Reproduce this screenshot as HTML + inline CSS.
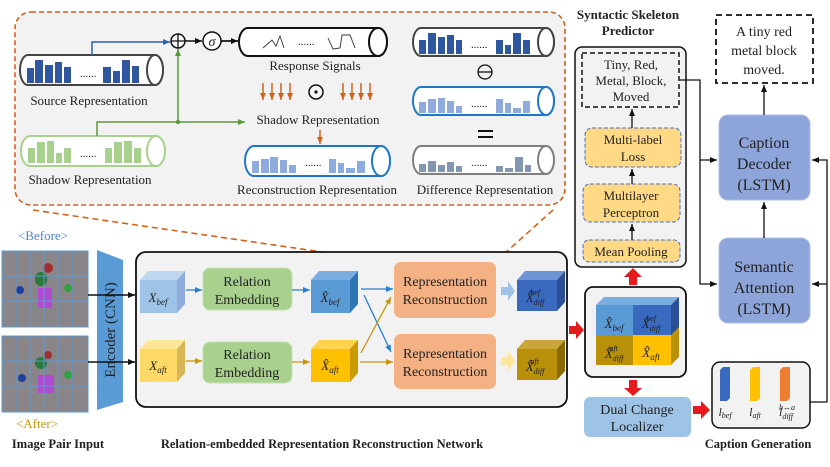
<!DOCTYPE html>
<html><head><meta charset="utf-8"><style>
html,body{margin:0;padding:0;background:#fff}
svg{display:block}
text{font-family:"Liberation Serif",serif;fill:#222}
.b{font-weight:bold}
</style></head><body>
<svg width="830" height="467" viewBox="0 0 830 467" xmlns="http://www.w3.org/2000/svg">
<defs>
<marker id="ak" markerWidth="8" markerHeight="8" refX="7" refY="4" orient="auto" markerUnits="userSpaceOnUse"><path d="M0,1 L7,4 L0,7 Z" fill="#111"/></marker>
<marker id="ab" markerWidth="8" markerHeight="8" refX="7" refY="4" orient="auto" markerUnits="userSpaceOnUse"><path d="M0,1 L7,4 L0,7 Z" fill="#2a7fcf"/></marker>
<marker id="ay" markerWidth="8" markerHeight="8" refX="7" refY="4" orient="auto" markerUnits="userSpaceOnUse"><path d="M0,1 L7,4 L0,7 Z" fill="#c9960c"/></marker>
<marker id="ag" markerWidth="8" markerHeight="8" refX="7" refY="4" orient="auto" markerUnits="userSpaceOnUse"><path d="M0,1 L7,4 L0,7 Z" fill="#5a9a3a"/></marker>
<marker id="ao" markerWidth="8" markerHeight="8" refX="7" refY="4" orient="auto" markerUnits="userSpaceOnUse"><path d="M0,1 L7,4 L0,7 Z" fill="#d0621c"/></marker>
<marker id="abl" markerWidth="8" markerHeight="8" refX="7" refY="4" orient="auto" markerUnits="userSpaceOnUse"><path d="M0,1 L7,4 L0,7 Z" fill="#3060b0"/></marker>
</defs>

<!-- Top dashed orange box -->
<rect x="15" y="12" width="550" height="193" rx="16" fill="#f2f2f2" stroke="#d0621c" stroke-width="1.6" stroke-dasharray="5,3"/>
<line x1="33" y1="210" x2="398" y2="263" stroke="#d0621c" stroke-width="1.6" stroke-dasharray="6,4"/>
<line x1="553" y1="210" x2="494" y2="263" stroke="#d0621c" stroke-width="1.6" stroke-dasharray="6,4"/>

<!-- Source cylinder -->
<path d="M28,55 H155 A8,15 0 0 1 155,85 H28 A8,15 0 0 1 28,55 Z" fill="#fff" stroke="#444" stroke-width="2"/>
<ellipse cx="155" cy="70" rx="8" ry="15" fill="#fff" stroke="#444" stroke-width="2"/>
<g fill="#2f57a0">
<rect x="27" y="68" width="7" height="15"/><rect x="35" y="60" width="8" height="23"/><rect x="45" y="65" width="8" height="18"/><rect x="55" y="62" width="7" height="21"/><rect x="64" y="67" width="7" height="16"/>
<rect x="103" y="67" width="8" height="16"/><rect x="113" y="71" width="7" height="12"/><rect x="122" y="60" width="8" height="23"/><rect x="132" y="66" width="7" height="17"/>
</g>
<text x="80" y="77" font-size="11">......</text>
<text x="89" y="105" font-size="13" text-anchor="middle">Source Representation</text>

<!-- Shadow cylinder -->
<path d="M30,136 H156 A9,15 0 0 1 156,166 H30 A9,15 0 0 1 30,136 Z" fill="#fff" stroke="#a9d18e" stroke-width="2"/>
<ellipse cx="156" cy="151" rx="9" ry="15" fill="#fff" stroke="#a9d18e" stroke-width="2"/>
<g fill="#a9d18e">
<rect x="28" y="148" width="7" height="15"/><rect x="37" y="142" width="8" height="21"/><rect x="47" y="141" width="7" height="22"/><rect x="56" y="153" width="6" height="10"/><rect x="64" y="148" width="7" height="15"/>
<rect x="105" y="148" width="7" height="15"/><rect x="114" y="142" width="8" height="21"/><rect x="124" y="141" width="8" height="22"/><rect x="134" y="148" width="7" height="15"/>
</g>
<text x="80" y="157" font-size="11">......</text>
<text x="90" y="184" font-size="13" text-anchor="middle">Shadow Representation</text>

<!-- connectors top -->
<path d="M92,55 V42 H170" fill="none" stroke="#3060b0" stroke-width="1.5" marker-end="url(#abl)"/>
<path d="M97,136 V122 H245" fill="none" stroke="#5a9a3a" stroke-width="1.5" marker-end="url(#ag)"/>
<path d="M178,122 V49" fill="none" stroke="#5a9a3a" stroke-width="1.5" marker-end="url(#ag)"/>
<circle cx="178" cy="122" r="2.2" fill="#5a9a3a"/>
<circle cx="178" cy="41" r="7" fill="#fff" stroke="#111" stroke-width="1.5"/>
<path d="M171,41 H185 M178,34 V48" stroke="#111" stroke-width="1.3"/>
<line x1="185" y1="41" x2="202" y2="41" stroke="#111" stroke-width="1.5" marker-end="url(#ak)"/>
<circle cx="212" cy="41" r="9" fill="#fff" stroke="#111" stroke-width="1.5"/>
<text x="212" y="46" font-size="14" font-style="italic" text-anchor="middle">σ</text>
<line x1="221" y1="41" x2="238" y2="41" stroke="#111" stroke-width="1.8" marker-end="url(#ak)"/>

<!-- Response signals cylinder -->
<path d="M248,28 H378 A9,14 0 0 1 378,56 H248 A9,14 0 0 1 248,28 Z" fill="#fff" stroke="#111" stroke-width="2"/>
<ellipse cx="378" cy="42" rx="9" ry="14" fill="#fff" stroke="#111" stroke-width="2"/>
<path d="M263,48 L272,40 L276,46 L280,36 L284,48 M328,38 L333,49 L340,48 L342,35 L350,35 L355,48" fill="none" stroke="#333" stroke-width="0.9"/>
<text x="298" y="45" font-size="11">......</text>
<text x="315" y="70" font-size="13" text-anchor="middle">Response Signals</text>

<!-- orange arrows -->
<g stroke="#d0621c" stroke-width="1.5" fill="none">
<line x1="263" y1="83" x2="263" y2="100" marker-end="url(#ao)"/><line x1="272" y1="83" x2="272" y2="100" marker-end="url(#ao)"/><line x1="281" y1="83" x2="281" y2="100" marker-end="url(#ao)"/><line x1="290" y1="83" x2="290" y2="100" marker-end="url(#ao)"/>
<line x1="343" y1="83" x2="343" y2="100" marker-end="url(#ao)"/><line x1="352" y1="83" x2="352" y2="100" marker-end="url(#ao)"/><line x1="361" y1="83" x2="361" y2="100" marker-end="url(#ao)"/><line x1="370" y1="83" x2="370" y2="100" marker-end="url(#ao)"/>
<line x1="320" y1="130" x2="320" y2="144" marker-end="url(#ao)"/>
</g>
<circle cx="316" cy="92" r="7" fill="none" stroke="#111" stroke-width="1.5"/><circle cx="316" cy="92" r="1.6" fill="#111"/>
<text x="318" y="124" font-size="13" text-anchor="middle">Shadow Representation</text>

<!-- Reconstruction cylinder -->
<path d="M254,146 H381 A9,15 0 0 1 381,176 H254 A9,15 0 0 1 254,146 Z" fill="#fff" stroke="#1f77c8" stroke-width="2"/>
<ellipse cx="381" cy="161" rx="9" ry="15" fill="#fff" stroke="#1f77c8" stroke-width="2"/>
<g fill="#8faadc">
<rect x="252" y="161" width="7" height="12"/><rect x="261" y="159" width="8" height="14"/><rect x="270" y="157" width="8" height="16"/><rect x="280" y="160" width="7" height="13"/><rect x="289" y="165" width="7" height="8"/>
<rect x="329" y="159" width="7" height="14"/><rect x="338" y="163" width="6" height="10"/><rect x="346" y="168" width="9" height="5"/><rect x="357" y="161" width="8" height="12"/>
</g>
<text x="305" y="166" font-size="11">......</text>
<text x="317" y="194" font-size="13" text-anchor="middle">Reconstruction Representation</text>

<!-- Difference column -->
<path d="M421,28 H546 A8,14 0 0 1 546,56 H421 A8,14 0 0 1 421,28 Z" fill="#fff" stroke="#444" stroke-width="2"/>
<ellipse cx="546" cy="42" rx="8" ry="14" fill="#fff" stroke="#444" stroke-width="2"/>
<g fill="#2f57a0"><rect x="419" y="40" width="7" height="14"/><rect x="428" y="33" width="8" height="21"/><rect x="438" y="37" width="7" height="17"/><rect x="447" y="35" width="7" height="19"/><rect x="456" y="40" width="6" height="14"/><rect x="496" y="40" width="7" height="14"/><rect x="505" y="45" width="6" height="9"/><rect x="513" y="33" width="8" height="21"/><rect x="523" y="40" width="7" height="14"/></g>
<text x="471" y="48" font-size="11">......</text>
<circle cx="485" cy="72" r="7" fill="none" stroke="#111" stroke-width="1.3"/><line x1="478" y1="72" x2="492" y2="72" stroke="#111" stroke-width="1.3"/>
<path d="M421,87 H546 A8,14 0 0 1 546,115 H421 A8,14 0 0 1 421,87 Z" fill="#fff" stroke="#1f77c8" stroke-width="2"/>
<ellipse cx="546" cy="101" rx="8" ry="14" fill="#fff" stroke="#1f77c8" stroke-width="2"/>
<g fill="#8faadc"><rect x="419" y="102" width="7" height="11"/><rect x="428" y="99" width="8" height="14"/><rect x="438" y="98" width="7" height="15"/><rect x="447" y="101" width="7" height="12"/><rect x="456" y="106" width="6" height="7"/><rect x="496" y="99" width="7" height="14"/><rect x="505" y="103" width="6" height="10"/><rect x="513" y="108" width="8" height="5"/><rect x="523" y="101" width="7" height="12"/></g>
<text x="471" y="107" font-size="11">......</text>
<path d="M478,131 H493 M478,137 H493" stroke="#111" stroke-width="2"/>
<path d="M421,146 H546 A8,14 0 0 1 546,174 H421 A8,14 0 0 1 421,146 Z" fill="#fff" stroke="#7f7f7f" stroke-width="2"/>
<ellipse cx="546" cy="160" rx="8" ry="14" fill="#fff" stroke="#7f7f7f" stroke-width="2"/>
<g fill="#8497b0"><rect x="419" y="164" width="7" height="8"/><rect x="428" y="161" width="8" height="11"/><rect x="438" y="165" width="7" height="7"/><rect x="447" y="162" width="7" height="10"/><rect x="456" y="166" width="6" height="6"/><rect x="496" y="166" width="7" height="6"/><rect x="505" y="168" width="8" height="4"/><rect x="515" y="157" width="8" height="15"/><rect x="525" y="165" width="6" height="7"/></g>
<text x="471" y="166" font-size="11">......</text>
<text x="485" y="194" font-size="13" text-anchor="middle">Difference Representation</text>

<!-- Image pair -->
<text x="43" y="240" font-size="13" fill="#4a86c8" text-anchor="middle" style="fill:#4a86c8">&lt;Before&gt;</text>
<g>
<rect x="2" y="251" width="86" height="76" fill="#8a8588"/>
<rect x="35" y="272" width="12" height="14" fill="#2a7a3a" rx="6"/><circle cx="48" cy="268" r="5" fill="#a03030"/><rect x="38" y="288" width="14" height="20" fill="#b04ad0"/><circle cx="20" cy="290" r="4" fill="#2040a0"/><circle cx="68" cy="288" r="4" fill="#30a040"/>
<rect x="2" y="336" width="86" height="76" fill="#8a8588"/>
<rect x="35" y="357" width="12" height="12" fill="#2a7a3a" rx="6"/><circle cx="48" cy="355" r="4" fill="#a03030"/><rect x="38" y="375" width="16" height="18" fill="#b04ad0"/><circle cx="22" cy="378" r="4" fill="#2040a0"/><circle cx="68" cy="375" r="4" fill="#30a040"/>
<g stroke="#5b9bd5" stroke-width="1" fill="none">
<rect x="2" y="251" width="86" height="76"/><path d="M16,251V327M30,251V327M44,251V327M58,251V327M72,251V327M2,276H88M2,301H88"/>
<rect x="2" y="336" width="86" height="76"/><path d="M16,336V412M30,336V412M44,336V412M58,336V412M72,336V412M2,361H88M2,386H88"/>
</g></g>
<text x="37" y="428" font-size="13" text-anchor="middle" style="fill:#c9960c">&lt;After&gt;</text>

<!-- Encoder -->
<path d="M97,250 L123,260 L123,402 L97,410 Z" fill="#5b9bd5"/>
<text transform="translate(115,330) rotate(-90)" font-size="15" text-anchor="middle">Encoder (CNN)</text>
<line x1="88" y1="295" x2="135" y2="295" stroke="#111" stroke-width="1.5" marker-end="url(#ak)"/>
<line x1="88" y1="362" x2="135" y2="362" stroke="#111" stroke-width="1.5" marker-end="url(#ak)"/>

<!-- Main network box -->
<rect x="136" y="252" width="431" height="155" rx="10" fill="#f2f2f2" stroke="#111" stroke-width="1.8"/>

<!-- cubes -->
<g>
<path d="M140,280 L148,271 L185,271 L177,280Z" fill="#bdd7ee"/><path d="M177,280 L185,271 L185,304 L177,313Z" fill="#8faadc"/><rect x="140" y="280" width="37" height="33" fill="#9dc3e6"/>
<text x="158" y="302" font-size="13" font-style="italic" text-anchor="middle">X<tspan font-size="9" dy="3">bef</tspan></text>
<path d="M140,349 L148,340 L185,340 L177,349Z" fill="#ffe699"/><path d="M177,349 L185,340 L185,373 L177,382Z" fill="#d6b656"/><rect x="140" y="349" width="37" height="33" fill="#ffd966"/>
<text x="158" y="370" font-size="13" font-style="italic" text-anchor="middle">X<tspan font-size="9" dy="3">aft</tspan></text>

<path d="M311,280 L319,271 L358,271 L350,280Z" fill="#7aaee0"/><path d="M350,280 L358,271 L358,304 L350,313Z" fill="#2e75b6"/><rect x="311" y="280" width="39" height="33" fill="#5b9bd5"/>
<text x="330" y="302" font-size="13" font-style="italic" text-anchor="middle">X̂<tspan font-size="9" dy="3">bef</tspan></text>
<path d="M311,349 L319,340 L358,340 L350,349Z" fill="#ffd34d"/><path d="M350,349 L358,340 L358,373 L350,382Z" fill="#c89b00"/><rect x="311" y="349" width="39" height="33" fill="#ffc000"/>
<text x="330" y="370" font-size="13" font-style="italic" text-anchor="middle">X̂<tspan font-size="9" dy="3">aft</tspan></text>

<path d="M517,280 L525,271 L565,271 L557,280Z" fill="#6f94d4"/><path d="M557,280 L565,271 L565,302 L557,311Z" fill="#2a4f96"/><rect x="517" y="280" width="40" height="31" fill="#3a6ac0"/>
<text x="535" y="302" font-size="13" font-style="italic" text-anchor="middle">X̂<tspan font-size="8" dy="3">diff</tspan><tspan font-size="8" dx="-14" dy="-10">bef</tspan></text>
<path d="M517,349 L525,340 L565,340 L557,349Z" fill="#c9a63a"/><path d="M557,349 L565,340 L565,371 L557,380Z" fill="#8a6a00"/><rect x="517" y="349" width="40" height="31" fill="#b8900a"/>
<text x="535" y="371" font-size="13" font-style="italic" text-anchor="middle">X̂<tspan font-size="8" dy="3">diff</tspan><tspan font-size="8" dx="-14" dy="-10">aft</tspan></text>
</g>

<!-- Relation embedding -->
<rect x="203" y="268" width="89" height="42" rx="7" fill="#a9d18e" stroke="#c5e0b4"/>
<text x="247" y="286" font-size="14" text-anchor="middle">Relation</text><text x="247" y="304" font-size="14" text-anchor="middle">Embedding</text>
<rect x="203" y="342" width="89" height="41" rx="7" fill="#a9d18e" stroke="#c5e0b4"/>
<text x="247" y="359" font-size="14" text-anchor="middle">Relation</text><text x="247" y="377" font-size="14" text-anchor="middle">Embedding</text>

<!-- Rep recon -->
<rect x="394" y="262" width="102" height="56" rx="7" fill="#f4b183"/>
<text x="445" y="286" font-size="14" text-anchor="middle">Representation</text><text x="445" y="304" font-size="14" text-anchor="middle">Reconstruction</text>
<rect x="394" y="334" width="102" height="55" rx="7" fill="#f4b183"/>
<text x="445" y="358" font-size="14" text-anchor="middle">Representation</text><text x="445" y="376" font-size="14" text-anchor="middle">Reconstruction</text>

<!-- arrows in network -->
<g stroke-width="1.3" fill="none">
<line x1="186" y1="290" x2="202" y2="290" stroke="#2a7fcf" marker-end="url(#ab)"/>
<line x1="292" y1="290" x2="310" y2="290" stroke="#2a7fcf" marker-end="url(#ab)"/>
<line x1="361" y1="289" x2="393" y2="289" stroke="#2a7fcf" marker-end="url(#ab)"/>
<line x1="364" y1="295" x2="391" y2="352" stroke="#2a7fcf" marker-end="url(#ab)"/>
<line x1="186" y1="361" x2="202" y2="361" stroke="#c9960c" marker-end="url(#ay)"/>
<line x1="292" y1="362" x2="310" y2="362" stroke="#c9960c" marker-end="url(#ay)"/>
<line x1="360" y1="362" x2="393" y2="362" stroke="#c9960c" marker-end="url(#ay)"/>
<line x1="361" y1="353" x2="391" y2="297" stroke="#c9960c" marker-end="url(#ay)"/>
</g>
<path d="M501,287 H508 V281 L515,291 L508,301 V295 H501Z" fill="#9dc3e6"/>
<path d="M501,357 H508 V351 L515,361 L508,371 V365 H501Z" fill="#ffe699"/>

<!-- red arrows -->
<path d="M569,326 H576 V321 L584,330 L576,339 V334 H569Z" fill="#e41a1c"/>
<path d="M629,285 V277 H624 L633,268 L642,277 H637 V285Z" fill="#e41a1c"/>
<path d="M629,380 V388 H624 L633,396 L642,388 H637 V380Z" fill="#e41a1c"/>
<path d="M693,406 H701 V401 L710,410 L701,419 V414 H693Z" fill="#e41a1c"/>

<!-- Syntactic predictor -->
<text x="628" y="19" font-size="13" class="b" text-anchor="middle">Syntactic Skeleton</text>
<text x="628" y="35" font-size="13" class="b" text-anchor="middle">Predictor</text>
<rect x="575" y="47" width="111" height="220" rx="7" fill="#f2f2f2" stroke="#111" stroke-width="1.5"/>
<rect x="582" y="53" width="97" height="54" fill="none" stroke="#111" stroke-width="1.5" stroke-dasharray="5,3"/>
<text x="631" y="69" font-size="13" text-anchor="middle">Tiny, Red,</text>
<text x="631" y="85" font-size="13" text-anchor="middle">Metal, Block,</text>
<text x="631" y="101" font-size="13" text-anchor="middle">Moved</text>
<rect x="585" y="128" width="96" height="39" rx="7" fill="#ffd986" stroke="#4472c4" stroke-dasharray="4,2"/>
<text x="633" y="144" font-size="13" text-anchor="middle">Multi-label</text><text x="633" y="161" font-size="13" text-anchor="middle">Loss</text>
<rect x="583" y="184" width="97" height="38" rx="7" fill="#ffd986" stroke="#4472c4" stroke-dasharray="4,2"/>
<text x="631" y="200" font-size="13" text-anchor="middle">Multilayer</text><text x="631" y="217" font-size="13" text-anchor="middle">Perceptron</text>
<rect x="583" y="240" width="97" height="22" rx="6" fill="#ffd986" stroke="#4472c4" stroke-dasharray="4,2"/>
<text x="631" y="256" font-size="13" text-anchor="middle">Mean Pooling</text>
<line x1="632" y1="240" x2="632" y2="224" stroke="#111" stroke-width="1.3" marker-end="url(#ak)"/>
<line x1="632" y1="184" x2="632" y2="169" stroke="#111" stroke-width="1.3" marker-end="url(#ak)"/>
<line x1="632" y1="128" x2="632" y2="109" stroke="#111" stroke-width="1.3" marker-end="url(#ak)"/>

<!-- middle cube box -->
<rect x="585" y="287" width="101" height="90" rx="8" fill="#f2f2f2" stroke="#111" stroke-width="1.8"/>
<path d="M596,305 L604,297 L679,297 L671,305Z" fill="#7aaee0"/>
<path d="M671,305 L679,297 L679,357 L671,365Z" fill="#b8900a"/>
<path d="M671,305 L679,297 L679,327 L671,335Z" fill="#2a4f96"/>
<rect x="596" y="305" width="37" height="30" fill="#5b9bd5"/>
<rect x="633" y="305" width="38" height="30" fill="#3a6ac0"/>
<rect x="596" y="335" width="37" height="30" fill="#b8900a"/>
<rect x="633" y="335" width="38" height="30" fill="#ffc000"/>
<text x="614" y="328" font-size="13" font-style="italic" text-anchor="middle">X̂<tspan font-size="9" dy="3">bef</tspan></text>
<text x="651" y="328" font-size="13" font-style="italic" text-anchor="middle">X̂<tspan font-size="8" dy="3">diff</tspan><tspan font-size="8" dx="-14" dy="-10">bef</tspan></text>
<text x="614" y="358" font-size="13" font-style="italic" text-anchor="middle">X̂<tspan font-size="8" dy="3">diff</tspan><tspan font-size="8" dx="-14" dy="-10">aft</tspan></text>
<text x="651" y="357" font-size="13" font-style="italic" text-anchor="middle">X̂<tspan font-size="9" dy="3">aft</tspan></text>

<!-- Dual change localizer -->
<rect x="584" y="397" width="107" height="40" rx="6" fill="#9dc3e6"/>
<text x="637" y="414" font-size="14" text-anchor="middle">Dual Change</text>
<text x="637" y="431" font-size="14" text-anchor="middle">Localizer</text>

<!-- Caption generation -->
<rect x="716" y="15" width="97" height="68" fill="none" stroke="#111" stroke-width="1.8" stroke-dasharray="6,4"/>
<text x="764" y="36" font-size="14" text-anchor="middle">A tiny red</text>
<text x="764" y="55" font-size="14" text-anchor="middle">metal block</text>
<text x="764" y="74" font-size="14" text-anchor="middle">moved.</text>
<rect x="719" y="115" width="91" height="85" rx="9" fill="#8ea5da" stroke="#a9bde8"/>
<text x="764" y="148" font-size="16" text-anchor="middle">Caption</text>
<text x="764" y="169" font-size="16" text-anchor="middle">Decoder</text>
<text x="764" y="190" font-size="16" text-anchor="middle">(LSTM)</text>
<rect x="719" y="238" width="91" height="85" rx="9" fill="#8ea5da" stroke="#a9bde8"/>
<text x="764" y="272" font-size="16" text-anchor="middle">Semantic</text>
<text x="764" y="293" font-size="16" text-anchor="middle">Attention</text>
<text x="764" y="314" font-size="16" text-anchor="middle">(LSTM)</text>
<line x1="764" y1="238" x2="764" y2="202" stroke="#111" stroke-width="1.3" marker-end="url(#ak)"/>
<line x1="764" y1="115" x2="764" y2="85" stroke="#111" stroke-width="1.3" marker-end="url(#ak)"/>
<path d="M680,80 H700 V160 H717" fill="none" stroke="#111" stroke-width="1.3" marker-end="url(#ak)"/>
<path d="M700,160 V284 H717" fill="none" stroke="#111" stroke-width="1.3" marker-end="url(#ak)"/>
<path d="M810,402 H827 V160 H812" fill="none" stroke="#111" stroke-width="1.3" marker-end="url(#ak)"/>
<path d="M827,284 H812" fill="none" stroke="#111" stroke-width="1.3" marker-end="url(#ak)"/>

<rect x="712" y="362" width="98" height="66" rx="8" fill="#f2f2f2" stroke="#111" stroke-width="1.5"/>
<path d="M720,370 L723,367 L730,367 L730,398 L727,401 L720,401Z" fill="#3a6ac0"/>
<path d="M750,370 L753,367 L760,367 L760,398 L757,401 L750,401Z" fill="#ffc000"/>
<path d="M780,370 L783,367 L790,367 L790,398 L787,401 L780,401Z" fill="#ed7d31"/>
<text x="725" y="416" font-size="12" font-style="italic" text-anchor="middle">l<tspan font-size="8" dy="2">bef</tspan></text>
<text x="755" y="416" font-size="12" font-style="italic" text-anchor="middle">l<tspan font-size="8" dy="2">aft</tspan></text>
<text x="787" y="416" font-size="12" font-style="italic" text-anchor="middle">l<tspan font-size="8" dy="3">diff</tspan><tspan font-size="8" dx="-14" dy="-9">b↔a</tspan></text>

<!-- bottom labels -->
<text x="58" y="448" font-size="12.5" class="b" text-anchor="middle">Image Pair Input</text>
<text x="322" y="448" font-size="12.5" class="b" text-anchor="middle">Relation-embedded Representation Reconstruction Network</text>
<text x="758" y="448" font-size="12.5" class="b" text-anchor="middle">Caption Generation</text>
</svg>
</body></html>
